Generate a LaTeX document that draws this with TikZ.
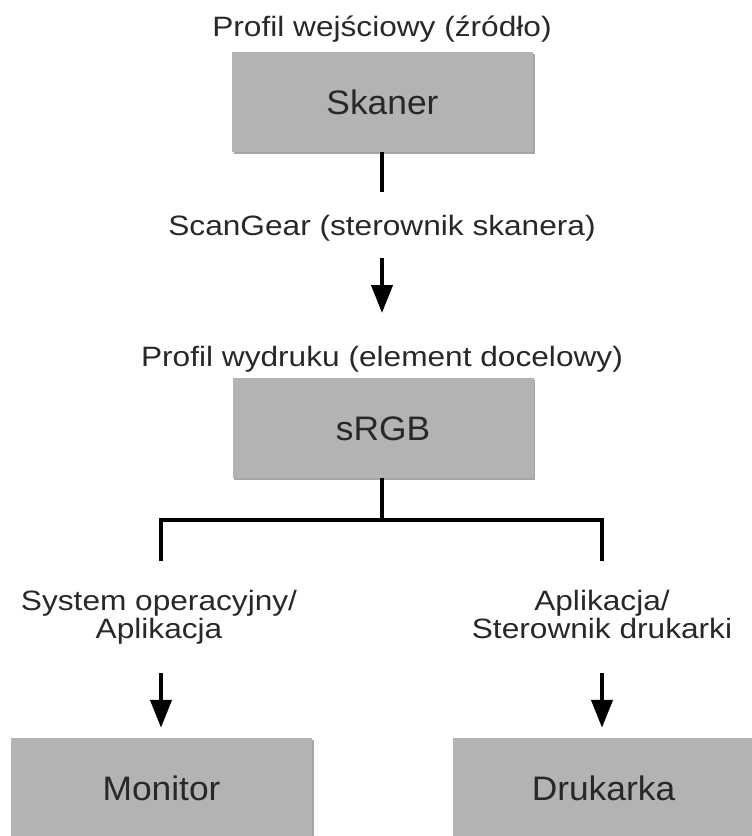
\documentclass[tikz,border=0pt]{standalone}
\usepackage{fontspec}
\setmainfont{Liberation Sans}
\newfontfamily\lblfont[FakeStretch=1.13]{Liberation Sans}
\newfontfamily\bxfont[FakeStretch=1.04]{Liberation Sans}
\usetikzlibrary{arrows.meta,shadows}
\definecolor{boxgray}{HTML}{B3B3B3}
\definecolor{txtcol}{HTML}{2B2727}
\tikzset{
  box/.style={draw=none, fill=boxgray, minimum width=301pt, minimum height=100pt,
    inner sep=0pt, text height=24pt, text depth=0pt, text=txtcol,
    font=\bxfont\fontsize{34}{34}\selectfont,
    drop shadow={shadow xshift=1.6pt, shadow yshift=-1.6pt, fill=black, opacity=0.35}},
  lbl/.style={anchor=base, inner sep=0pt, text=txtcol, font=\lblfont\fontsize{28}{28}\selectfont},
  conn/.style={draw=black, line width=4.3pt, line join=miter},
  arr/.style={conn, -{Triangle[length=28pt, width=21pt]}}
}
\begin{document}
\begin{tikzpicture}[x=1pt, y=-1pt]
\useasboundingbox (0,0) rectangle (752,836);
% boxes
\node[box] (skaner) at (382.5,102) {Skaner};
\node[box] (srgb) at (383,428) {sRGB};
\node[box] (monitor) at (161.5,788) {Monitor};
\node[box] (drukarka) at (603.5,788) {Drukarka};
% labels
\node[lbl] (src) at (382,36.7) {Profil wejściowy (źródło)};
\node[lbl] (scangear) at (382,235) {ScanGear (sterownik skanera)};
\node[lbl] (dst) at (382,366) {Profil wydruku (element docelowy)};
\node[lbl] (osA) at (159,610) {System operacyjny/};
\node[lbl] (osB) at (159,638) {Aplikacja};
\node[lbl] (apA) at (602,610) {Aplikacja/};
\node[lbl] (apB) at (602,638) {Sterownik drukarki};
% connector coordinates
\coordinate (s1) at (382,192);
\coordinate (a1top) at (382,258);
\coordinate (a1tip) at (382,313);
\coordinate (j) at (382,520);
\coordinate (jl) at (161,520);
\coordinate (jr) at (602,520);
\coordinate (jlb) at (161,561);
\coordinate (jrb) at (602,561);
\coordinate (a2top) at (161,673);
\coordinate (a3top) at (602,673);
% connectors
\draw[conn] (s1 |- skaner.south) -- (s1);
\draw[arr] (a1top) -- (a1tip);
\draw[conn] (j |- srgb.south) -- (j);
\draw[conn] (jlb) -- (jl) -- (jr) -- (jrb);
\draw[arr] (a2top) -- ([yshift=10pt]a2top |- monitor.north);
\draw[arr] (a3top) -- ([yshift=10pt]a3top |- drukarka.north);
\end{tikzpicture}
\end{document}
